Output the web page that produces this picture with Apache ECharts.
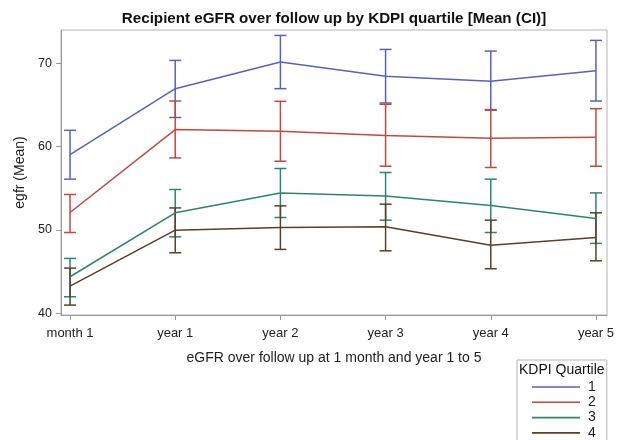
<!DOCTYPE html>
<html><head><meta charset="utf-8">
<script src="https://cdn.jsdelivr.net/npm/echarts@6/dist/echarts.min.js"></script>
<style>html,body{margin:0;padding:0;background:#fff}#c{width:624px;height:440px}</style>
</head><body><div id="c"></div>
<script>
const categories = ['month 1','year 1','year 2','year 3','year 4','year 5'];
const yTicks = [40, 50, 60, 70];
const quartiles = ['1','2','3','4'];
const colors = ['#5563c0','#c4493d','#2a8572','#5e3f22'];
const mean1 = [59.05, 66.96, 70.15, 68.44, 67.84, 69.12];
const low1  = [56.1, 63.5, 66.96, 65.24, 64.36, 65.48];
const high1 = [61.96, 70.35, 73.35, 71.67, 71.47, 72.75];
const mean2 = [52.1, 62.05, 61.85, 61.33, 61.0, 61.13];
const low2  = [49.7, 58.65, 58.25, 57.65, 57.5, 57.65];
const high2 = [54.26, 65.48, 65.44, 65.08, 64.45, 64.56];
const mean3 = [44.39, 52.06, 54.45, 54.09, 52.94, 51.38];
const low3  = [41.99, 49.18, 51.5, 51.18, 49.7, 48.39];
const high3 = [46.59, 54.86, 57.38, 56.9, 56.1, 54.45];
const mean4 = [43.27, 49.98, 50.3, 50.38, 48.18, 49.1];
const low4  = [40.99, 47.27, 47.67, 47.5, 45.35, 46.3];
const high4 = [45.43, 52.65, 52.9, 53.1, 51.18, 52.06];

const means = [mean1, mean2, mean3, mean4];
const lows = [low1, low2, low3, low4];
const highs = [high1, high2, high3, high4];
const FONT = 'Liberation Sans';

const series = [];
quartiles.forEach((q, i) => {
  series.push({
    type: 'custom', name: 'ci' + q, silent: true, z: 2,
    data: categories.map((c, k) => [k, lows[i][k], highs[i][k]]),
    renderItem: function (params, api) {
      const lo = api.coord([api.value(0), api.value(1)]);
      const hi = api.coord([api.value(0), api.value(2)]);
      const hw = 6;
      const st = { stroke: colors[i], lineWidth: 1.5 };
      return { type: 'group', children: [
        { type: 'line', shape: { x1: lo[0], y1: lo[1], x2: hi[0], y2: hi[1] }, style: st },
        { type: 'line', shape: { x1: lo[0]-hw, y1: lo[1], x2: lo[0]+hw, y2: lo[1] }, style: st },
        { type: 'line', shape: { x1: hi[0]-hw, y1: hi[1], x2: hi[0]+hw, y2: hi[1] }, style: st }
      ]};
    }
  });
  series.push({
    type: 'line', name: q, z: 3,
    data: categories.map((c, k) => [k, means[i][k]]),
    symbol: 'none', lineStyle: { color: colors[i], width: 1.5 }, itemStyle: { color: colors[i] }
  });
});

const chart = echarts.init(document.getElementById('c'), null, { renderer: 'canvas' });
chart.setOption({
  animation: false,
  backgroundColor: '#fff',
  title: {
    text: 'Recipient eGFR over follow up by KDPI quartile [Mean (CI)]',
    left: 329, top: 6, textAlign: 'center',
    textStyle: { fontFamily: FONT, fontSize: 15.2, fontWeight: 'bold', color: '#111' }
  },
  grid: { left: 61, right: 17, top: 30, bottom: 125, show: true, borderColor: '#b4b4b4', borderWidth: 1 },
  xAxis: {
    type: 'value', min: -0.086, max: 5.105,
    name: 'eGFR over follow up at 1 month and year 1 to 5',
    nameLocation: 'middle', nameGap: 36,
    nameTextStyle: { fontFamily: FONT, fontSize: 14, color: '#222' },
    axisLine: { show: true, onZero: false, lineStyle: { color: '#999' } },
    axisTick: { show: true, customValues: categories.map((c, k) => k), length: 5, lineStyle: { color: '#999' } },
    axisLabel: { customValues: categories.map((c, k) => k), formatter: v => categories[Math.round(v)],
      fontFamily: FONT, fontSize: 13, color: '#222', margin: 12 },
    splitLine: { show: false }
  },
  yAxis: {
    type: 'value', min: 39.8, max: 74,
    name: 'egfr (Mean)', nameLocation: 'middle', nameGap: 29, nameRotate: 90,
    nameTextStyle: { fontFamily: FONT, fontSize: 14, color: '#222' },
    axisLine: { show: true, onZero: false, lineStyle: { color: '#999' } },
    axisTick: { show: true, customValues: yTicks, length: 5, lineStyle: { color: '#999' } },
    axisLabel: { customValues: yTicks, fontFamily: FONT, fontSize: 12.5, color: '#222', margin: 9 },
    splitLine: { show: false }
  },
  legend: {
    data: quartiles, orient: 'vertical', left: 517, top: 360, height: 200,
    padding: [20, 11, 4, 15], itemGap: 1.3, itemWidth: 48, itemHeight: 12,
    borderColor: '#b4b4b4', borderWidth: 1,
    icon: 'path://M0,5.2 L48,5.2 L48,6.8 L0,6.8 Z',
    textStyle: { fontFamily: FONT, fontSize: 14, lineHeight: 12, color: '#222', padding: [0, 0, 0, 3] }
  },
  graphic: [{
    type: 'text', left: 519, top: 363,
    style: { text: 'KDPI Quartile', font: '14px "Liberation Sans"', fill: '#111' }
  }],
  series: series
});
</script></body></html>
